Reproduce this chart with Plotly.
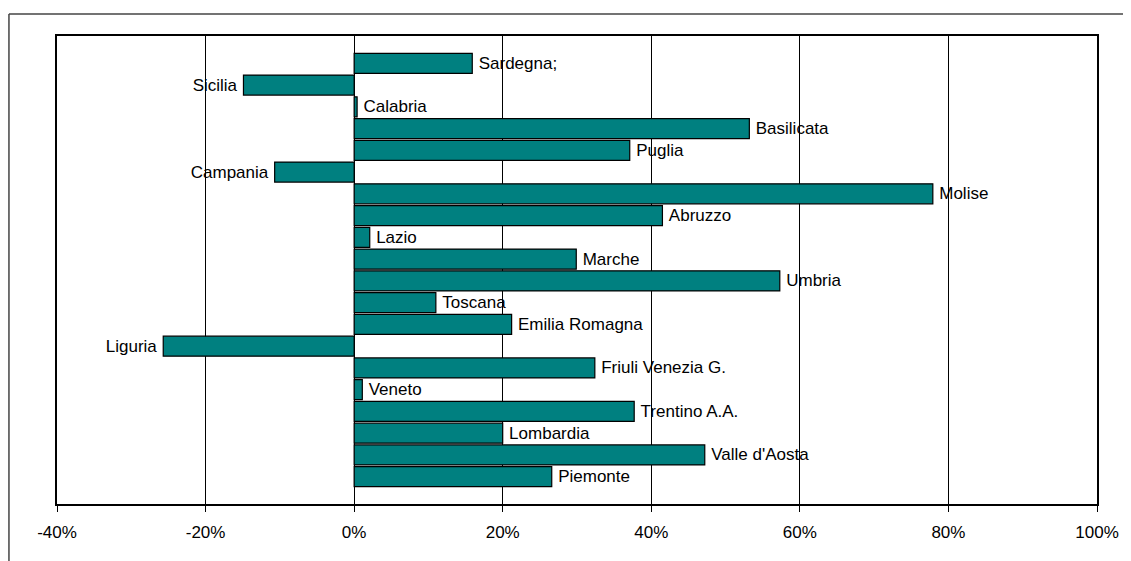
import plotly.graph_objects as go

regions = ["Piemonte", "Valle d'Aosta", "Lombardia", "Trentino A.A.", "Veneto",
           "Friuli Venezia G.", "Liguria", "Emilia Romagna", "Toscana", "Umbria",
           "Marche", "Lazio", "Abruzzo", "Molise", "Campania", "Puglia",
           "Basilicata", "Calabria", "Sicilia", "Sardegna;"]
values = [26.6, 47.2, 20.0, 37.7, 1.1,
          32.4, -25.7, 21.2, 11.0, 57.3,
          29.9, 2.1, 41.5, 77.9, -10.7, 37.1,
          53.2, 0.4, -14.9, 15.9]
x_ticks = [-40, -20, 0, 20, 40, 60, 80, 100]
x_tick_labels = ["-40%", "-20%", "0%", "20%", "40%", "60%", "80%", "100%"]

FONT = "Liberation Sans, Arial, sans-serif"

templates = ["\u2009%{text}" if v >= 0 else "%{text}\u2009" for v in values]

fig = go.Figure()
fig.add_trace(go.Bar(
    x=values, y=list(range(len(regions))), orientation="h",
    marker=dict(color="#008080", line=dict(color="#000000", width=1.2)),
    text=regions, texttemplate=templates, textposition="outside", cliponaxis=False,
    constraintext="none",
    outsidetextfont=dict(family=FONT, size=17, color="#000000"),
    hoverinfo="skip",
))

fig.update_layout(
    width=1123, height=553,
    margin=dict(l=49, r=34, t=28, b=57),
    paper_bgcolor="#ffffff", plot_bgcolor="#ffffff",
    bargap=0.08, showlegend=False,
    font=dict(family=FONT, size=17, color="#000000"),
    xaxis=dict(range=[-40, 100], tickvals=x_ticks, ticktext=x_tick_labels,
               showgrid=True, gridcolor="#000000", gridwidth=1,
               zeroline=False, showline=True, linecolor="#000000", linewidth=1.5,
               mirror=True, ticks="outside", ticklen=6, tickcolor="#000000",
               ticklabelstandoff=6,
               tickfont=dict(family=FONT, size=17, color="#000000")),
    yaxis=dict(range=[-1.255, 20.255], showticklabels=False, showgrid=False,
               zeroline=False, showline=True, linecolor="#000000", linewidth=1.5,
               mirror=True, ticks=""),
    shapes=[
        dict(type="line", xref="paper", yref="paper", x0=-0.0462, x1=1.04,
             y0=1.047, y1=1.047, line=dict(color="#444444", width=1.5)),
        dict(type="line", xref="paper", yref="paper", x0=-0.0462, x1=-0.0462,
             y0=1.047, y1=-0.13, line=dict(color="#444444", width=1.5)),
    ],
)

fig.write_html("out.html")
